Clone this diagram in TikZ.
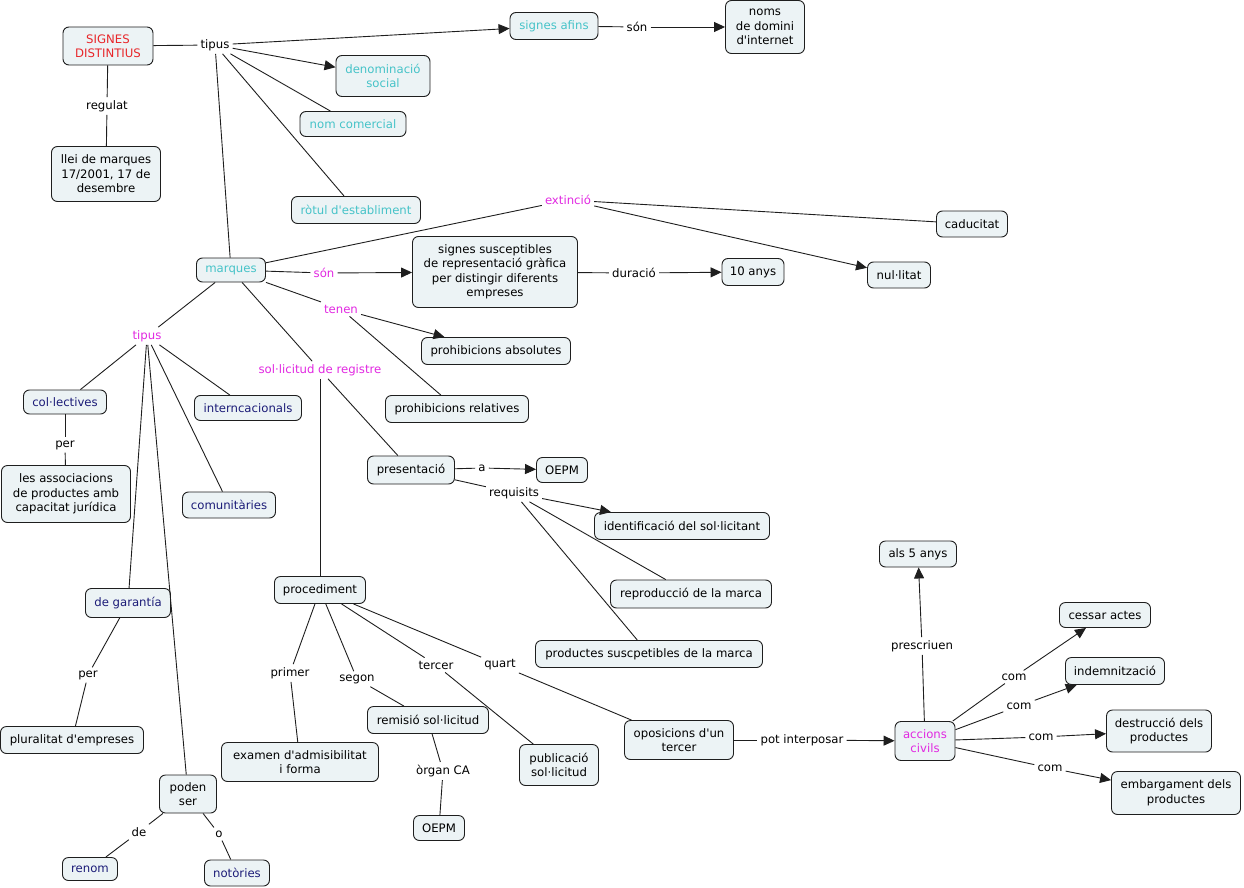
\documentclass[tikz,border=0pt]{standalone}
\usepackage{fontspec}
\newfontfamily\dv{DejaVu Sans}
\usetikzlibrary{arrows.meta}
\definecolor{boxfill}{RGB}{236,243,245}
\definecolor{cred}{RGB}{232,38,42}
\definecolor{cteal}{RGB}{70,195,200}
\definecolor{cmag}{RGB}{225,40,225}
\definecolor{cnavy}{RGB}{28,28,120}
\definecolor{cline}{RGB}{30,30,30}
\tikzset{
  box/.style={draw=cline, line width=0.9pt, fill=boxfill, rounded corners=6pt, align=center, inner sep=1pt, font=\dv\fontsize{11.7}{14.5}\selectfont},
  lbl/.style={inner sep=3pt, align=center, font=\dv\fontsize{11.7}{14.5}\selectfont},
  con/.style={draw=cline, line width=0.9pt},
  arr/.style={con, -{Triangle[length=11pt,width=10pt]}},
  sz/.style 2 args={minimum width=#1, minimum height=#2},
}
\begin{document}
\begin{tikzpicture}[x=1pt,y=-1pt]
\useasboundingbox (0,0) rectangle (1244,888);
% concept nodes
\node[box, sz={90}{38}, text=cred] (sd) at (108,46) {SIGNES\\DISTINTIUS};
\node[box, sz={109}{55}] (llei) at (106,174) {llei de marques\\17/2001, 17 de\\desembre};
\node[box, sz={88}{27}, text=cteal] (afins) at (554,26) {signes afins};
\node[box, sz={79}{53}] (noms) at (765,27) {noms\\de domini\\d'internet};
\node[box, sz={94}{41}, text=cteal] (denom) at (383,76) {denominació\\social};
\node[box, sz={106}{25}, text=cteal] (nomc) at (353,124) {nom comercial};
\node[box, sz={129}{27}, text=cteal] (rotul) at (356,210) {ròtul d'establiment};
\node[box, sz={71}{26}] (cad) at (972,224) {caducitat};
\node[box, sz={63}{26}] (nul) at (899,275) {nul·litat};
\node[box, sz={69}{24}, text=cteal] (marq) at (231,270) {marques};
\node[box, sz={165}{71}] (sign) at (495,272) {signes susceptibles\\de representació gràfica\\per distingir diferents\\empreses};
\node[box, sz={62}{27}] (anysd) at (753,272) {10 anys};
\node[box, sz={149}{27}] (pabs) at (496,351) {prohibicions absolutes};
\node[box, sz={143}{27}] (prel) at (457,409) {prohibicions relatives};
\node[box, sz={83}{24}, text=cnavy] (col) at (65,402) {col·lectives};
\node[box, sz={107}{25}, text=cnavy] (inter) at (248,408) {interncacionals};
\node[box, sz={129}{57}] (assoc) at (66,494) {les associacions\\de productes amb\\capacitat jurídica};
\node[box, sz={93}{26}, text=cnavy] (comu) at (229,505) {comunitàries};
\node[box, sz={87}{28}] (pres) at (411,470) {presentació};
\node[box, sz={51}{25}] (oepma) at (562,470) {OEPM};
\node[box, sz={175}{27}] (ident) at (682,526) {identificació del sol·licitant};
\node[box, sz={161}{28}] (repr) at (691,594) {reproducció de la marca};
\node[box, sz={227}{27}] (prod) at (649,654) {productes suscpetibles de la marca};
\node[box, sz={91}{27}] (proc) at (320,590) {procediment};
\node[box, sz={85}{29}, text=cnavy] (gar) at (128,603) {de garantía};
\node[box, sz={143}{27}] (plur) at (72,740) {pluralitat d'empreses};
\node[box, sz={121}{27}] (remis) at (428,720) {remisió sol·licitud};
\node[box, sz={157}{39}] (exam) at (300,762) {examen d'admisibilitat\\i forma};
\node[box, sz={51}{25}] (oepmb) at (439,828) {OEPM};
\node[box, sz={79}{41}] (publ) at (559,765) {publicació\\sol·licitud};
\node[box, sz={109}{39}] (opos) at (679,740) {oposicions d'un\\tercer};
\node[box, sz={60}{39}, text=cmag] (acc) at (925,741) {accions\\civils};
\node[box, sz={77}{26}] (anysc) at (918,554) {als 5 anys};
\node[box, sz={91}{25}] (cess) at (1105,615) {cessar actes};
\node[box, sz={99}{27}] (indem) at (1115,671) {indemnització};
\node[box, sz={105}{42}] (destr) at (1159,731) {destrucció dels\\productes};
\node[box, sz={129}{43}] (embarg) at (1176,793) {embargament dels\\productes};
\node[box, sz={57}{38}] (poden) at (188,794) {poden\\ser};
\node[box, sz={55}{23}, text=cnavy] (renom) at (90,869) {renom};
\node[box, sz={65}{26}, text=cnavy] (notor) at (237,873) {notòries};
% link labels
\node[lbl] (ltipa) at (215,45) {tipus};
\node[lbl] (lreg) at (107,106) {regulat};
\node[lbl] (lsona) at (637,27) {són};
\node[lbl, text=cmag] (lext) at (568,200) {extinció};
\node[lbl, text=cmag] (lsonb) at (324,273) {són};
\node[lbl] (ldur) at (634,273) {duració};
\node[lbl, text=cmag] (lten) at (341,309) {tenen};
\node[lbl, text=cmag] (ltipb) at (147,336) {tipus};
\node[lbl, text=cmag] (lsol) at (320,370) {sol·licitud de registre};
\node[lbl] (lpera) at (65,445) {per};
\node[lbl] (la) at (482,468) {a};
\node[lbl] (lreq) at (514,493) {requisits};
\node[lbl] (lperb) at (88,675) {per};
\node[lbl] (lpri) at (290,673) {primer};
\node[lbl] (lseg) at (357,679) {segon};
\node[lbl] (lter) at (436,665) {tercer};
\node[lbl] (lqua) at (500,665) {quart};
\node[lbl] (lorg) at (443,771) {òrgan CA};
\node[lbl] (lpot) at (802,740) {pot interposar};
\node[lbl] (lpre) at (922,646) {prescriuen};
\node[lbl] (lcoma) at (1014,677) {com};
\node[lbl] (lcomb) at (1019,706) {com};
\node[lbl] (lcomc) at (1041,737) {com};
\node[lbl] (lcomd) at (1050,768) {com};
\node[lbl] (lde) at (139,832) {de};
\node[lbl] (lo) at (219,834) {o};
% connectors
\draw[con] (sd) -- (ltipa);
\draw[arr] (ltipa) -- (afins);
\draw[arr] (ltipa) -- (denom);
\draw[con] (ltipa) -- (nomc);
\draw[con] (ltipa) -- (rotul);
\draw[con] (ltipa) -- (marq);
\draw[con] (afins) -- (lsona);
\draw[arr] (lsona) -- (noms);
\draw[con] (sd) -- (lreg);
\draw[con] (lreg) -- (llei);
\draw[con] (marq) -- (lext);
\draw[con] (lext) -- (cad);
\draw[arr] (lext) -- (nul);
\draw[con] (marq) -- (lsonb);
\draw[arr] (lsonb) -- (sign);
\draw[con] (sign) -- (ldur);
\draw[arr] (ldur) -- (anysd);
\draw[con] (marq) -- (lten);
\draw[arr] (lten) -- (pabs);
\draw[con] (lten) -- (prel);
\draw[con] (marq) -- (ltipb);
\draw[con] (ltipb) -- (col);
\draw[con] (ltipb) -- (inter);
\draw[con] (ltipb) -- (comu);
\draw[con] (ltipb) -- (gar);
\draw[con] (ltipb) -- (poden);
\draw[con] (marq) -- (lsol);
\draw[con] (lsol) -- (pres);
\draw[con] (lsol) -- (proc);
\draw[con] (col) -- (lpera);
\draw[con] (lpera) -- (assoc);
\draw[con] (pres) -- (la);
\draw[arr] (la) -- (oepma);
\draw[con] (pres) -- (lreq);
\draw[arr] (lreq) -- (ident);
\draw[con] (lreq) -- (repr);
\draw[con] (lreq) -- (prod);
\draw[con] (gar) -- (lperb);
\draw[con] (lperb) -- (plur);
\draw[con] (proc) -- (lpri);
\draw[con] (lpri) -- (exam);
\draw[con] (proc) -- (lseg);
\draw[con] (lseg) -- (remis);
\draw[con] (proc) -- (lter);
\draw[con] (lter) -- (publ);
\draw[con] (proc) -- (lqua);
\draw[con] (lqua) -- (opos);
\draw[con] (remis) -- (lorg);
\draw[con] (lorg) -- (oepmb);
\draw[con] (opos) -- (lpot);
\draw[arr] (lpot) -- (acc);
\draw[con] (acc) -- (lpre);
\draw[arr] (lpre) -- (anysc);
\draw[con] (acc) -- (lcoma);
\draw[arr] (lcoma) -- (cess);
\draw[con] (acc) -- (lcomb);
\draw[arr] (lcomb) -- (indem);
\draw[con] (acc) -- (lcomc);
\draw[arr] (lcomc) -- (destr);
\draw[con] (acc) -- (lcomd);
\draw[arr] (lcomd) -- (embarg);
\draw[con] (poden) -- (lde);
\draw[con] (lde) -- (renom);
\draw[con] (poden) -- (lo);
\draw[con] (lo) -- (notor);
\end{tikzpicture}
\end{document}
